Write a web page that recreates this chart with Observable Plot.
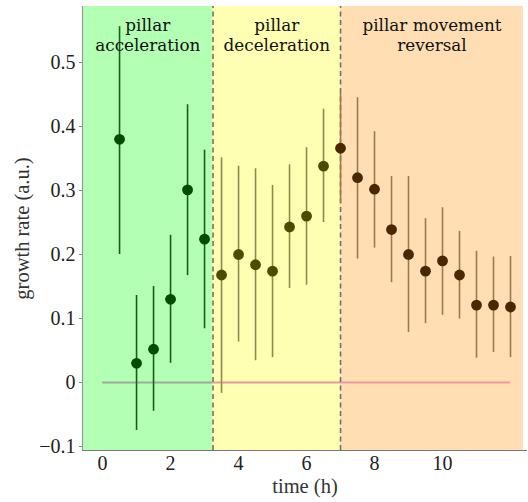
<!DOCTYPE html>
<html>
<head>
<meta charset="utf-8">
<script src="https://cdn.jsdelivr.net/npm/d3@7"></script>
<script src="https://cdn.jsdelivr.net/npm/@observablehq/plot@0.6"></script>
<style>
  html, body { margin: 0; padding: 0; background: #fff; }
  #chart svg { display: block; }
</style>
</head>
<body>
<div id="chart"></div>
<script>
// ---- data ----
const times = [0.5, 1, 1.5, 2, 2.5, 3, 3.5, 4, 4.5, 5, 5.5, 6, 6.5, 7, 7.5, 8, 8.5, 9, 9.5, 10, 10.5, 11, 11.5, 12];
const rate  = [0.380, 0.030, 0.052, 0.130, 0.301, 0.224, 0.168, 0.200, 0.184, 0.174, 0.243, 0.260, 0.338, 0.366, 0.320, 0.302, 0.239, 0.200, 0.174, 0.190, 0.168, 0.121, 0.121, 0.118];
const lower = [0.200, -0.075, -0.045, 0.030, 0.167, 0.084, -0.017, 0.063, 0.034, 0.039, 0.147, 0.152, 0.250, 0.280, 0.193, 0.210, 0.156, 0.078, 0.092, 0.105, 0.099, 0.038, 0.047, 0.039];
const upper = [0.556, 0.136, 0.150, 0.230, 0.434, 0.363, 0.351, 0.338, 0.334, 0.308, 0.340, 0.367, 0.427, 0.452, 0.445, 0.392, 0.322, 0.322, 0.256, 0.273, 0.236, 0.205, 0.196, 0.197];

const phaseNames = ["pillar\nacceleration", "pillar\ndeceleration", "pillar movement\nreversal"];
const phaseStart = [-0.59, 3.25, 7];
const phaseEnd   = [3.25, 7, 12.38];
const boundaries = [3.25, 7];

const xTicks = [0, 2, 4, 6, 8, 10];
const yTicks = [-0.1, 0, 0.1, 0.2, 0.3, 0.4, 0.5];
const xLabel = "time (h)";
const yLabel = "growth rate (a.u.)";

// ---- styles ----
const phaseFill  = ["#b3ffb3", "#ffffb3", "#ffdeb3"];
const pointFill  = ["#004c00", "#4c4c00", "#4c2600"];
const barStroke  = ["#145f14", "#8e8a4e", "#9c7a4c"];
const zeroStroke = ["#a0aaa0", "#e99aa0", "#e99aa0"];

const xDomain = [-0.59, 12.5];
const yDomain = [-0.10625, 0.5875];

const phaseOf = t => t < phaseEnd[0] ? 0 : (t < phaseStart[2] ? 1 : 2);

const pts = times.map((t, i) => ({t, r: rate[i], lo: lower[i], hi: upper[i], p: phaseOf(t)}));
const phases = phaseNames.map((n, i) => ({name: n, x1: phaseStart[i], x2: phaseEnd[i], i}));
const zeroSegs = [
  {x1: 0, x2: boundaries[0], i: 0},
  {x1: boundaries[0], x2: times[times.length - 1], i: 1}
];

const serif = "'Liberation Serif', 'DejaVu Serif', serif";

const chart = Plot.plot({
  width: 528,
  height: 502,
  marginLeft: 82,
  marginRight: 1,
  marginTop: 6,
  marginBottom: 52,
  style: {fontFamily: serif, fontSize: "20px", background: "#fff", color: "#333"},
  x: {domain: xDomain},
  y: {domain: yDomain},
  marks: [
    Plot.rect(phases, {x1: "x1", x2: "x2", y1: yDomain[0], y2: yDomain[1], fill: d => phaseFill[d.i]}),
    Plot.ruleY(zeroSegs, {y: 0, x1: "x1", x2: "x2", stroke: d => zeroStroke[d.i], strokeWidth: 2}),
    Plot.ruleX(boundaries, {y1: yDomain[0], y2: yDomain[1], stroke: "#74745a", strokeWidth: 1.6, strokeDasharray: "5,3.5"}),
    Plot.ruleX(pts, {x: "t", y1: "lo", y2: "hi", stroke: d => barStroke[d.p], strokeWidth: 1.6}),
    Plot.dot(pts, {x: "t", y: "r", r: 5.4, fill: d => pointFill[d.p], stroke: "none"}),
    Plot.text(phases, {
      x: d => (d.x1 + d.x2) / 2, y: yDomain[1], text: "name",
      lineAnchor: "top", dy: 10, lineHeight: 1.2,
      fontFamily: "'DejaVu Serif', serif", fontSize: 16.8, fill: "#111"
    }),
    Plot.ruleX([xDomain[0]], {stroke: "#999", strokeWidth: 1.2}),
    Plot.ruleY([yDomain[0]], {stroke: "#777", strokeWidth: 1.2}),
    Plot.axisY({ticks: yTicks, tickSize: 3, tickPadding: 4, stroke: "#888",
      tickFormat: d => d === 0 ? "0" : (d < 0 ? "\u2212" + Math.abs(d) : String(d)),
      label: null, fill: "#222", fontSize: 20, fontFamily: serif}),
    Plot.axisX({ticks: xTicks, tickSize: 0, tickPadding: 5, label: null, fill: "#222", fontSize: 20, fontFamily: serif}),
    Plot.text([yLabel], {frameAnchor: "left", textAnchor: "middle", dx: -60, rotate: -90, fontSize: 20.5, fontFamily: serif, fill: "#333"}),
    Plot.text([xLabel], {frameAnchor: "bottom", textAnchor: "middle", dy: 42, fontSize: 20.5, fontFamily: serif, fill: "#333"})
  ]
});

document.getElementById("chart").appendChild(chart);
</script>
</body>
</html>
